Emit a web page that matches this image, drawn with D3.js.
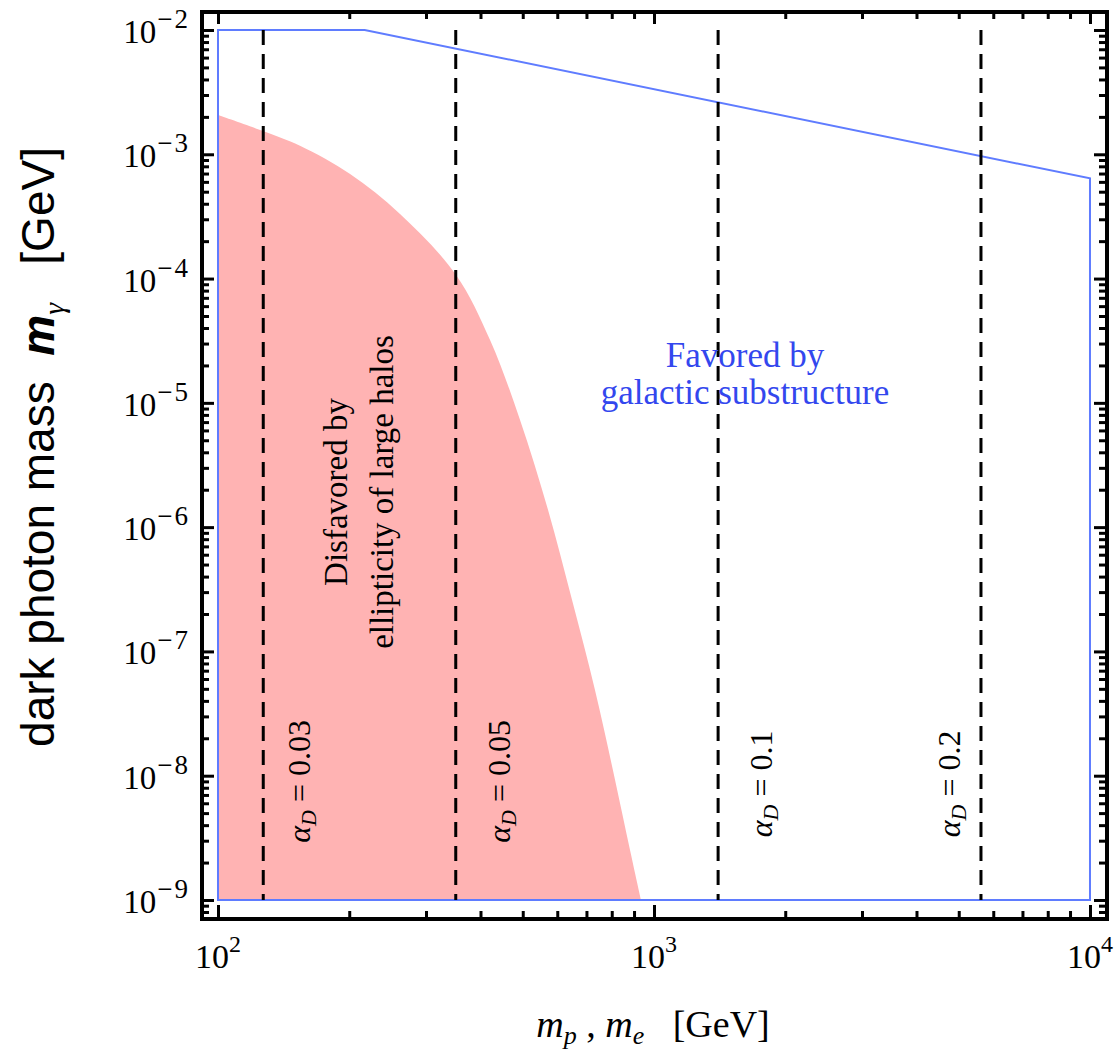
<!DOCTYPE html>
<html>
<head>
<meta charset="utf-8">
<script src="https://cdn.jsdelivr.net/npm/d3@7"></script>
<style>
  body { margin: 0; background: #fff; }
  svg text { font-family: "Liberation Serif", "Times New Roman", serif; white-space: pre; }
</style>
</head>
<body>
<svg id="chart" width="1115" height="1050"></svg>
<script>
// plot edges in data units
const xDomain = [91.9, 10940];
const yDomain = [7.03e-10, 0.01396];

// major ticks and their exponent labels
const xMajor = [1e2, 1e3, 1e4];
const xMajorExp = ["2", "3", "4"];
const yMajor = [1e-9, 1e-8, 1e-7, 1e-6, 1e-5, 1e-4, 1e-3, 1e-2];
const yMajorExp = ["\u22129", "\u22128", "\u22127", "\u22126", "\u22125", "\u22124", "\u22123", "\u22122"];

// boundary of the region disfavored by ellipticity of large halos
const ellipX = [100, 126.8, 154.2, 200.9, 261.5, 351.5, 420.7, 492.9, 571.3, 648.5, 732.2, 814.1, 881.0, 933.7];
const ellipY = [2.07e-3, 1.54e-3, 1.17e-3, 6.94e-4, 3.31e-4, 1.07e-4, 3.21e-5, 7.29e-6, 1.38e-6, 2.6e-7, 4.9e-8, 9.25e-9, 2.53e-9, 1e-9];

// outline of the region favored by galactic substructure
const subX = [100, 100, 217, 1e4, 1e4];
const subY = [1e-9, 1e-2, 1e-2, 6.4e-4, 1e-9];

// alpha_D contours
const alphaX = [127, 351, 1403, 5623];
const alphaLabel = ["0.03", "0.05", "0.1", "0.2"];
const alphaLabelDx = [47, 54, 54, -21];
const alphaLabelY = [9e-9, 9e-9, 8.6e-9, 8.6e-9];
const alphaRange = [1e-9, 1e-2];

const margin = { left: 202, top: 12, right: 8, bottom: 131 };
const W = 1115, H = 1050;
const innerW = W - margin.left - margin.right;
const innerH = H - margin.top - margin.bottom;

const svg = d3.select("#chart");

const x = d3.scaleLog().domain(xDomain).range([margin.left, margin.left + innerW]);
const y = d3.scaleLog().domain(yDomain).range([margin.top + innerH, margin.top]);

const pL = margin.left, pR = margin.left + innerW;
const pT = margin.top, pB = margin.top + innerH;

// Red excluded region
const redArea = d3.area()
  .y((d, i) => y(ellipY[i]))
  .x0(x(ellipX[0]))
  .x1((d, i) => x(ellipX[i]))
  .curve(d3.curveCatmullRom);

svg.append("path")
  .attr("d", redArea(ellipX))
  .attr("fill", "#ffb3b3");

// Blue outline
const blueLine = d3.line()
  .x((d, i) => x(subX[i]))
  .y((d, i) => y(subY[i]));

svg.append("path")
  .attr("d", blueLine(subX) + "Z")
  .attr("fill", "none")
  .attr("stroke", "#5f7cff")
  .attr("stroke-width", 2);

// Dashed alpha_D lines
svg.append("g")
  .selectAll("line")
  .data(alphaX)
  .join("line")
  .attr("x1", (d) => x(d))
  .attr("x2", (d) => x(d))
  .attr("y1", y(alphaRange[1]))
  .attr("y2", y(alphaRange[0]))
  .attr("stroke", "#000")
  .attr("stroke-width", 3)
  .attr("stroke-dasharray", "15,9");

// alpha_D labels
const aLab = svg.append("g")
  .selectAll("text")
  .data(alphaX)
  .join("text")
  .attr("xml:space", "preserve")
  .attr("transform", (d, i) => `translate(${x(d) + alphaLabelDx[i]},${y(alphaLabelY[i])}) rotate(-90)`)
  .attr("text-anchor", "middle")
  .style("font-size", "32px");
aLab.append("tspan").style("font-style", "italic").text("\u03b1");
aLab.append("tspan").style("font-style", "italic").style("font-size", "22px").attr("dy", 6).text("D");
aLab.append("tspan").attr("dy", -6).text((d, i) => " = " + alphaLabel[i]);

// Region annotations
const dis = svg.append("text")
  .attr("transform", `translate(347,492) rotate(-90)`)
  .attr("text-anchor", "middle")
  .style("font-size", "33px");
dis.append("tspan").attr("x", 0).attr("y", 0).text("Disfavored by");
dis.append("tspan").attr("x", 0).attr("y", 46).text("ellipticity of large halos");

const fav = svg.append("g")
  .attr("text-anchor", "middle")
  .style("font-size", "35px")
  .attr("fill", "#3347ee");
fav.append("text").attr("x", 745).attr("y", 367).text("Favored by");
fav.append("text").attr("x", 745).attr("y", 404).text("galactic substructure");

// Ticks on all four sides
const minorX = x.ticks().filter((v) => !xMajor.some((m) => Math.abs(m - v) / m < 1e-6));
const minorY = y.ticks().filter((v) => !yMajor.some((m) => Math.abs(m - v) / m < 1e-6));

function tickAxis(axis, pos, values, size) {
  const g = svg.append("g")
    .attr("transform", pos)
    .call(axis.tickValues(values).tickSize(-size).tickFormat(""));
  g.select(".domain").remove();
  g.selectAll(".tick line").attr("stroke", "#000").attr("stroke-width", 3);
}

tickAxis(d3.axisBottom(x), `translate(0,${pB})`, xMajor, 14);
tickAxis(d3.axisBottom(x), `translate(0,${pB})`, minorX, 8);
tickAxis(d3.axisTop(x), `translate(0,${pT})`, xMajor, 12);
tickAxis(d3.axisTop(x), `translate(0,${pT})`, minorX, 7);
tickAxis(d3.axisLeft(y), `translate(${pL},0)`, yMajor, 12);
tickAxis(d3.axisLeft(y), `translate(${pL},0)`, minorY, 7);
tickAxis(d3.axisRight(y), `translate(${pR},0)`, yMajor, 13);
tickAxis(d3.axisRight(y), `translate(${pR},0)`, minorY, 8);

// Frame
svg.append("rect")
  .attr("x", pL).attr("y", pT)
  .attr("width", innerW).attr("height", innerH)
  .attr("fill", "none")
  .attr("stroke", "#000")
  .attr("stroke-width", 4);

// Tick labels
const xl = svg.append("g")
  .selectAll("text")
  .data(xMajor)
  .join("text")
  .attr("x", (d) => x(d))
  .attr("y", 968)
  .attr("text-anchor", "middle")
  .style("font-size", "34px");
xl.append("tspan").text("10");
xl.append("tspan").attr("dy", -16).style("font-size", "24px").text((d, i) => xMajorExp[i]);

const yl = svg.append("g")
  .selectAll("text")
  .data(yMajor)
  .join("text")
  .attr("x", 190)
  .attr("y", (d) => y(d) + 13)
  .attr("text-anchor", "end")
  .style("font-size", "33px");
yl.append("tspan").text("10");
yl.append("tspan")
  .attr("dx", 1)
  .attr("dy", -15)
  .style("font-size", "27px")
  .style("letter-spacing", "2px")
  .text((d, i) => yMajorExp[i]);

// Axis titles
const xt = svg.append("text")
  .attr("xml:space", "preserve")
  .attr("x", 653).attr("y", 1037)
  .attr("text-anchor", "middle")
  .style("font-size", "38px");
xt.append("tspan").style("font-style", "italic").text("m");
xt.append("tspan").style("font-style", "italic").style("font-size", "26px").attr("dy", 7).text("p");
xt.append("tspan").attr("dy", -7).text(" , ");
xt.append("tspan").style("font-style", "italic").text("m");
xt.append("tspan").style("font-style", "italic").style("font-size", "26px").attr("dy", 7).text("e");
xt.append("tspan").attr("dy", -7).text("   [GeV]");

const yt = svg.append("text")
  .attr("xml:space", "preserve")
  .attr("transform", "translate(54,447) rotate(-90)")
  .attr("text-anchor", "middle")
  .style("font-family", "'Liberation Sans', Arial, sans-serif")
  .style("font-size", "46px");
yt.append("tspan").text("dark photon mass  ");
yt.append("tspan").style("font-weight", "bold").style("font-style", "italic").text("m");
yt.append("tspan")
  .style("font-family", "'Liberation Serif', serif")
  .style("font-style", "italic")
  .style("font-size", "30px")
  .attr("dy", 10)
  .text("\u03b3");
yt.append("tspan").attr("dy", -10).text("   [GeV]");
</script>
</body>
</html>
